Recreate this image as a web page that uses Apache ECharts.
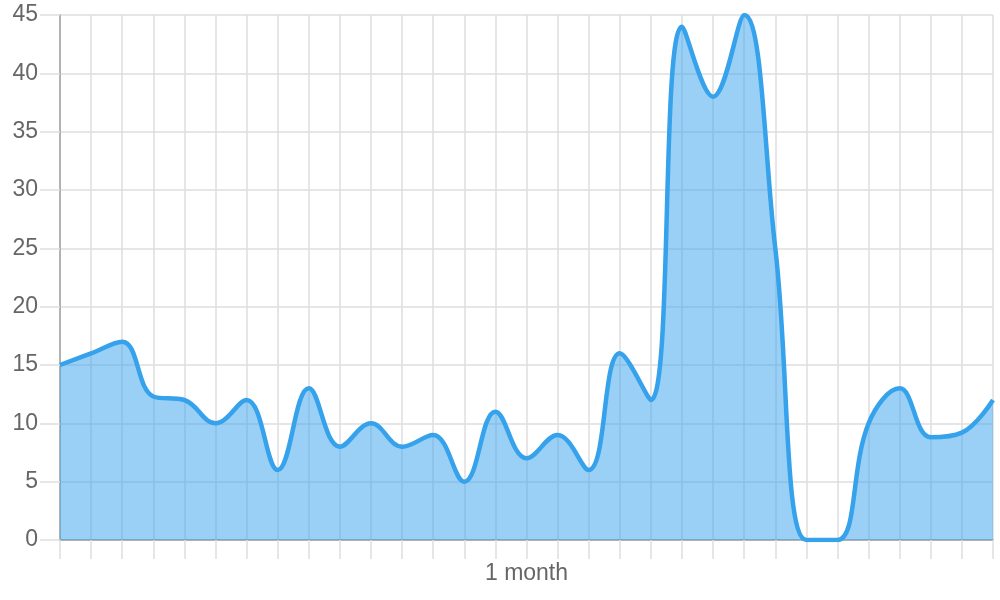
<!DOCTYPE html>
<html>
<head>
<meta charset="utf-8">
<script src="https://cdn.jsdelivr.net/npm/echarts@6/dist/echarts.min.js"></script>
<style>html,body{margin:0;padding:0;background:#fff}#chart{width:1000px;height:600px}</style>
</head>
<body>
<div id="chart"></div>
<script>
var days = ['1','2','3','4','5','6','7','8','9','10','11','12','13','14','15','16','17','18','19','20','21','22','23','24','25','26','27','28','29','30','31'];
var values = [15,16,17,12.3,12,10,12,6,13,8,10,8,9,5,11,7,9,6,16,12,44,38,45,25,0,0,10,13,8.8,9.2,12];
var xAxisName = '1 month';
var yMin = 0, yMax = 45, yStep = 5;

var chart = echarts.init(document.getElementById('chart'), null, {renderer: 'canvas'});
var font = "'Liberation Sans', Arial, sans-serif";
chart.setOption({
  animation: false,
  grid: {left: 60, right: 7, top: 15, bottom: 60, containLabel: false},
  xAxis: {
    type: 'category',
    data: days,
    boundaryGap: false,
    name: xAxisName,
    nameLocation: 'middle',
    nameGap: 22,
    nameTextStyle: {color: '#666', fontSize: 23, fontFamily: font},
    axisLine: {show: true, lineStyle: {color: '#a0a0a0', width: 1.5}},
    axisTick: {show: true, length: 19, interval: 0, lineStyle: {color: '#dedede', width: 1.5}},
    axisLabel: {show: false},
    splitLine: {show: true, interval: 0, lineStyle: {color: '#dedede', width: 1.5}}
  },
  yAxis: {
    type: 'value',
    min: yMin, max: yMax, interval: yStep,
    axisLine: {show: true, lineStyle: {color: '#a0a0a0', width: 1.5}},
    axisTick: {show: true, length: 20, lineStyle: {color: '#dedede', width: 1.5}},
    axisLabel: {color: '#666', fontSize: 23, fontFamily: font, margin: 22},
    splitLine: {show: true, lineStyle: {color: '#dedede', width: 1.5}}
  },
  series: [{
    type: 'line',
    data: values,
    smooth: 0.4,
    showSymbol: false,
    lineStyle: {color: '#36A2EB', width: 4.5},
    itemStyle: {color: '#36A2EB'},
    areaStyle: {color: '#36A2EB', opacity: 0.5}
  }]
});
</script>
</body>
</html>
